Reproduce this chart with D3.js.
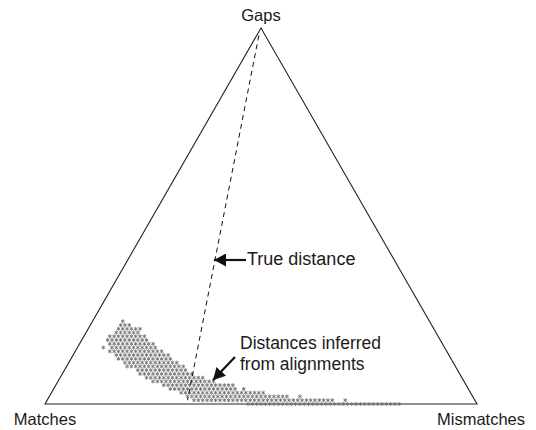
<!DOCTYPE html>
<meta charset="utf-8">
<script src="https://d3js.org/d3.v7.min.js"></script>
<style>
  body { margin: 0; background: #fff; }
  text { font-family: "Liberation Sans", Arial, sans-serif; fill: #1a1a1a; }
</style>
<div id="my_dataviz"></div>
<script>
// ternary lattice, N = 100 steps per side
var N = 100;
// one row per gap count: range of mismatch counts that is filled
var gapRows     = [0, 1, 2, 3, 4, 5, 6, 7, 8, 9, 10, 11, 12, 13, 14, 15, 16, 17, 18, 19, 20, 21, 22];
var mismatchMin = [47, 34, 32, 30, 27, 25, 22, 20, 18, 17, 14, 13, 11, 10, 8, 8, 7, 6, 6, 7, 7, 7, 7];
var mismatchMax = [82, 66, 55, 49, 42, 41, 36, 33, 30, 28, 27, 25, 23, 22, 20, 18, 17, 15, 14, 12, 11, 9, 7];
// stray points away from the runs
var strayGaps       = [1, 2, 4, 7, 15, 20];
var strayMismatches = [69, 58, 44, 36, 6, 12];

// dashed "true distance" line (fractions of mismatches / gaps)
var trueMismatch = [0.005, 0.325];
var trueGap      = [0.98, 0.01];

var vertexLabels = ["Matches", "Mismatches", "Gaps"];

var width = 536, height = 430;

var svg = d3.select("#my_dataviz")
  .append("svg")
  .attr("width", width)
  .attr("height", height);

// ternary -> screen, through two linear scales
var x = d3.scaleLinear().domain([0, 1]).range([45, 477]);
var y = d3.scaleLinear().domain([0, 1]).range([404, 28]);
function px(mm, g) { return x(mm + g / 2); }
function py(mm, g) { return y(g); }

// triangle
var corners = [[0, 0], [1, 0], [0, 1]];
svg.append("path")
  .attr("d", d3.line()(corners.map(function (c) { return [px(c[0], c[1]), py(c[0], c[1])]; })) + "Z")
  .attr("fill", "none")
  .attr("stroke", "#222")
  .attr("stroke-width", 1.1);

// vertex labels
svg.append("text").attr("x", px(0, 0)).attr("y", 425).attr("text-anchor", "middle")
  .attr("font-size", 16.5).text(vertexLabels[0]);
svg.append("text").attr("x", px(1, 0) + 4).attr("y", 425).attr("text-anchor", "middle")
  .attr("font-size", 16.5).text(vertexLabels[1]);
svg.append("text").attr("x", px(0, 1)).attr("y", 21).attr("text-anchor", "middle")
  .attr("font-size", 16.5).text(vertexLabels[2]);

// build point list from the rows
var pts = [];
gapRows.forEach(function (g, i) {
  for (var m = mismatchMin[i]; m <= mismatchMax[i]; m++) pts.push({ m: m / N, g: g / N });
});
strayGaps.forEach(function (g, i) { pts.push({ m: strayMismatches[i] / N, g: g / N }); });

var star = d3.symbol().type(d3.symbolAsterisk).size(11);
svg.append("g").selectAll("path")
  .data(pts)
  .enter()
  .append("path")
  .attr("d", star)
  .attr("transform", function (d) { return "translate(" + px(d.m, d.g) + "," + py(d.m, d.g) + ")"; })
  .attr("fill", "none")
  .attr("stroke", "#707070")
  .attr("stroke-width", 0.9);

// true distance dashed line
svg.append("line")
  .attr("x1", px(trueMismatch[0], trueGap[0])).attr("y1", py(trueMismatch[0], trueGap[0]))
  .attr("x2", px(trueMismatch[1], trueGap[1])).attr("y2", py(trueMismatch[1], trueGap[1]))
  .attr("stroke", "#111")
  .attr("stroke-width", 1)
  .attr("stroke-dasharray", "5,4");

// arrow marker
svg.append("defs").append("marker")
  .attr("id", "head")
  .attr("viewBox", "0 0 12 13")
  .attr("refX", 12).attr("refY", 6.5)
  .attr("markerWidth", 12).attr("markerHeight", 13)
  .attr("markerUnits", "userSpaceOnUse")
  .attr("orient", "auto")
  .append("path")
  .attr("d", "M0,0L12,6.5L0,13Z")
  .attr("fill", "#111");

svg.append("line")
  .attr("x1", 246).attr("y1", 260).attr("x2", 214).attr("y2", 260)
  .attr("stroke", "#111").attr("stroke-width", 2.2)
  .attr("marker-end", "url(#head)");
svg.append("text").attr("x", 247).attr("y", 265).attr("font-size", 18).text("True distance");

svg.append("line")
  .attr("x1", 235).attr("y1", 357).attr("x2", 213).attr("y2", 380)
  .attr("stroke", "#111").attr("stroke-width", 2.2)
  .attr("marker-end", "url(#head)");
svg.append("text").attr("x", 240).attr("y", 349).attr("font-size", 17.5).text("Distances inferred");
svg.append("text").attr("x", 240).attr("y", 370).attr("font-size", 17.5).text("from alignments");
</script>
